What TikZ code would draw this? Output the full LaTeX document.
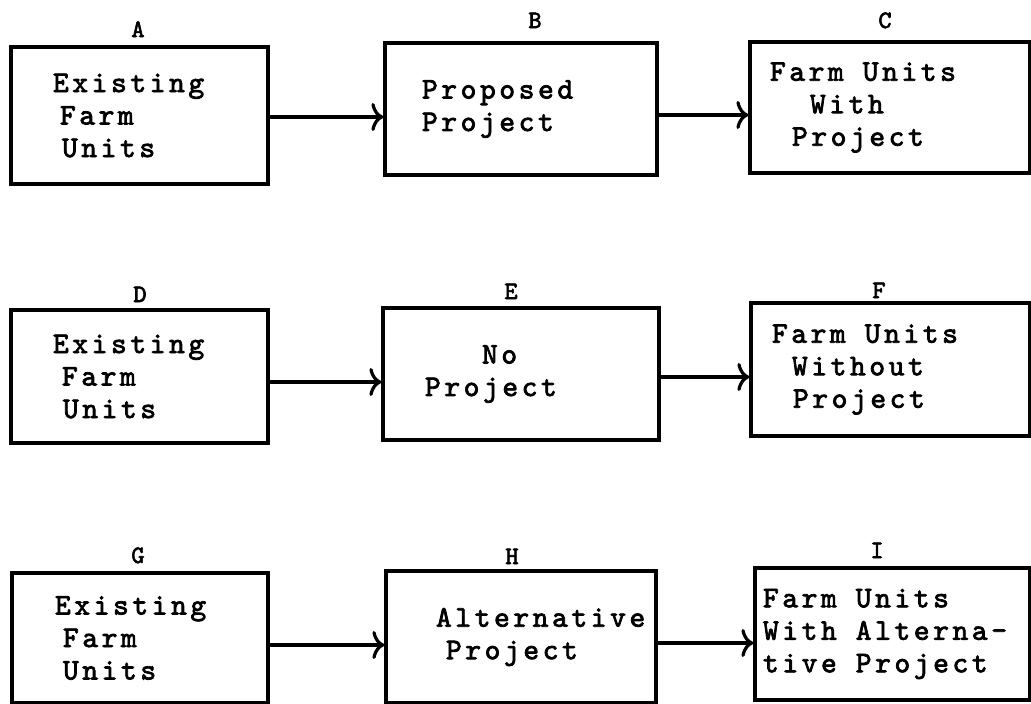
\documentclass[tikz,border=0pt]{standalone}
\usepackage{fontspec}
\newfontfamily\tw[LetterSpace=12,FakeBold=2.5]{lmmono10-regular.otf}
\newcommand\twbox{\tw\fontsize{30}{32.5}\selectfont}
\newcommand\twlab{\tw\fontsize{25}{26}\selectfont}
\newcommand\gap{\hspace{9pt}}
\usetikzlibrary{arrows.meta}
\begin{document}
\begin{tikzpicture}[x=1pt,y=-1pt,
  box/.style={draw, line width=3.2pt, inner sep=0pt, align=left, font=\twbox},
  lab/.style={anchor=base, inner sep=0pt, font=\twlab},
  arr/.style={line width=3.8pt,
    -{Computer Modern Rightarrow[length=12pt,width=28pt,line width=3.2pt]}}]
\useasboundingbox (0,0) rectangle (1031,704);
\fill[white] (0,0) rectangle (1031,704);
% row 1
\node[box, text width=257pt, minimum height=137pt] (A) at (139.5,115.5)
  {\hspace*{42pt}Existing\\\hspace*{49pt}Farm\\\hspace*{51pt}Units};
\node[box, text width=272pt, minimum height=132pt] (B) at (521,109)
  {\hspace*{37pt}Proposed\\\hspace*{37pt}Project};
\node[box, text width=280pt, minimum height=131pt] (C) at (890,107.5)
  {\hspace*{20pt}Farm \gap Units\\\hspace*{60pt}With\\\hspace*{42pt}Project};
% row 2
\node[box, text width=257pt, minimum height=133pt] (D) at (139.5,376.5)
  {\hspace*{42pt}Existing\\\hspace*{51pt}Farm\\\hspace*{52pt}Units};
\node[box, text width=276pt, minimum height=132pt] (E) at (521,374)
  {\hspace*{99pt}No\\\hspace*{42pt}Project};
\node[box, text width=279pt, minimum height=133pt] (F) at (890.5,369.5)
  {\hspace*{21pt}Farm \gap Units\\\hspace*{41pt}Without\\\hspace*{42pt}Project};
% row 3
\node[box, text width=256pt, minimum height=130pt] (G) at (140,638)
  {\hspace*{43pt}Existing\\\hspace*{51pt}Farm\\\hspace*{51pt}Units};
\node[box, text width=270pt, minimum height=132pt] (H) at (521,637)
  {\hspace*{50pt}Alternative\\\hspace*{60pt}Project};
\node[box, text width=275pt, minimum height=132pt] (I) at (892.5,634)
  {\hspace*{8pt}Farm \gap Units\\\hspace*{8pt}With \gap Alterna-\\\hspace*{8pt}tive \gap Project};
% labels
\node[lab] (la) at (138,37) {A};
\node[lab] (lb) at (535,28) {B};
\node[lab] (lc) at (885,28) {C};
\node[lab] (ld) at (140,302) {D};
\node[lab] (le) at (511,299) {E};
\node[lab] (lf) at (879,298) {F};
\node[lab] (lg) at (138,563) {G};
\node[lab] (lh) at (512,564) {H};
\node[lab] (li) at (877,558) {I};
% arrows
\coordinate (ab) at ([yshift=-1.5pt]A.east);
\coordinate (bc) at ([yshift=-6pt]B.east);
\coordinate (de) at ([yshift=-5.5pt]D.east);
\coordinate (ef) at ([yshift=-3pt]E.east);
\coordinate (gh) at ([yshift=-7pt]G.east);
\coordinate (hi) at ([yshift=-6pt]H.east);
\draw[arr] (ab) -- (ab -| B.west);
\draw[arr] (bc) -- (bc -| C.west);
\draw[arr] (de) -- (de -| E.west);
\draw[arr] (ef) -- (ef -| F.west);
\draw[arr] (gh) -- (gh -| H.west);
\draw[arr] (hi) -- (hi -| I.west);
\end{tikzpicture}
\end{document}
